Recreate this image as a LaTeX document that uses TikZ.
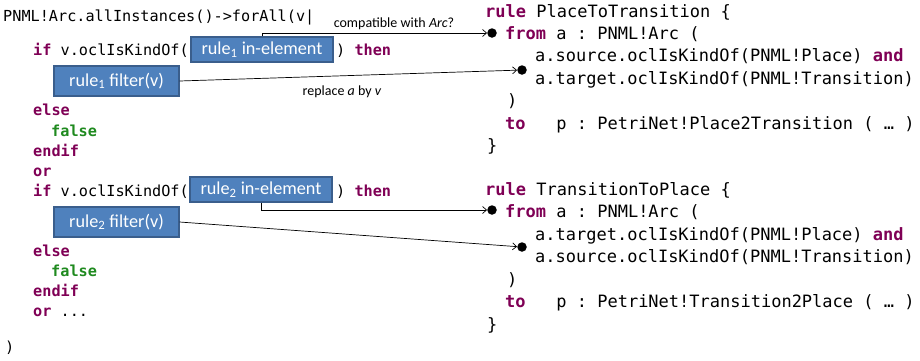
\documentclass[tikz,border=0pt]{standalone}
\usepackage{fontspec}
\setmainfont{Carlito}
\setmonofont{DejaVu Sans Mono}
\usetikzlibrary{arrows.meta}
\definecolor{kwc}{HTML}{7F0055}
\definecolor{falsec}{HTML}{1F8A1F}
\definecolor{boxfill}{HTML}{4F81BD}
\definecolor{boxline}{HTML}{3A5E8C}
\newcommand\kw[1]{\textbf{\textcolor{kwc}{#1}}}
\newcommand\kwfalse{\textbf{\textcolor{falsec}{false}}}
\begin{document}
\begin{tikzpicture}[x=1pt,y=-1pt,
  lcode/.style={anchor=base west, inner sep=0, font=\ttfamily\fontsize{15.2}{18}\selectfont},
  rcode/.style={anchor=base west, inner sep=0, font=\ttfamily\fontsize{17}{20}\selectfont},
  tag/.style={rectangle, fill=boxfill, draw=boxline, line width=1.2pt, text=white,
              inner sep=0, font=\fontsize{18.2}{21}\selectfont},
  dot/.style={circle, fill=black, minimum size=9.5pt, inner sep=0},
  link/.style={-{Straight Barb[length=4pt,width=7pt]}, line width=0.7pt},
  note/.style={font=\fontsize{14}{16}\selectfont, inner sep=0}
]
\useasboundingbox (0,0) rectangle (920,360);

% OCL constraint on the left
\node[lcode] (l0)  at (3,21)   {PNML!Arc.allInstances()->forAll(v|};
\node[lcode] (l1)  at (33,55.5) {\kw{if} v.oclIsKindOf(};
\node[lcode] (l1b) at (336,55.5) {) \kw{then}};
\node[lcode] (l2)  at (33,115.5) {\kw{else}};
\node[lcode] (l3)  at (51,136)  {\kwfalse};
\node[lcode] (l4)  at (33,156)  {\kw{endif}};
\node[lcode] (l5)  at (33,176)  {\kw{or}};
\node[lcode] (l6)  at (33,196)  {\kw{if} v.oclIsKindOf(};
\node[lcode] (l6b) at (336,196) {) \kw{then}};
\node[lcode] (l7)  at (33,256)  {\kw{else}};
\node[lcode] (l8)  at (51,276)  {\kwfalse};
\node[lcode] (l9)  at (33,296)  {\kw{endif}};
\node[lcode] (l10) at (33,316)  {\kw{or} ...};
\node[lcode] (l11) at (5,352)   {)};

% placeholders taken from the rules
\node[tag, minimum width=142pt, minimum height=25pt] (in1) at (262,49.5) {rule\textsubscript{1} in-element};
\node[tag, minimum width=125pt, minimum height=30pt] (f1)  at (116.5,81) {rule\textsubscript{1} filter(v)};
\node[tag, minimum width=142pt, minimum height=25pt] (in2) at (261,189.5) {rule\textsubscript{2} in-element};
\node[tag, minimum width=125pt, minimum height=30pt] (f2)  at (116.5,222) {rule\textsubscript{2} filter(v)};

% first ATL rule
\node[rcode] (r0) at (485,17.5)  {\kw{rule} PlaceToTransition \{};
\node[rcode] (r1) at (505,39)    {\kw{from} a : PNML!Arc (};
\node[rcode] (r2) at (535,61.5)  {a.source.oclIsKindOf(PNML!Place) \kw{and}};
\node[rcode] (r3) at (535,84)    {a.target.oclIsKindOf(PNML!Transition)};
\node[rcode] (r4) at (507,106.5) {)};
\node[rcode] (r5) at (505,129)   {\kw{to}\ \ \ p : PetriNet!Place2Transition ( … )};
\node[rcode] (r6) at (487,151.5) {\}};

% second ATL rule
\node[rcode] (s0) at (485,195)   {\kw{rule} TransitionToPlace \{};
\node[rcode] (s1) at (505,217.5) {\kw{from} a : PNML!Arc (};
\node[rcode] (s2) at (535,240)   {a.target.oclIsKindOf(PNML!Place) \kw{and}};
\node[rcode] (s3) at (535,262.5) {a.source.oclIsKindOf(PNML!Transition)};
\node[rcode] (s4) at (507,285)   {)};
\node[rcode] (s5) at (505,307.5) {\kw{to}\ \ \ p : PetriNet!Transition2Place ( … )};
\node[rcode] (s6) at (487,330)   {\}};

% anchor points in the rules
\node[dot] (d1) at (492,33)  {};
\node[dot] (d2) at (522,70)  {};
\node[dot] (d3) at (492,210) {};
\node[dot] (d4) at (522,247) {};

% mappings
\draw[link] (in1.north) |- (d1);
\draw[link] (f1.east) -- (d2);
\draw[link] (in2.south) |- (d3);
\draw[link] (f2.east) -- (d4);

\node[note] (n1) at (394,24) {compatible with \textit{Arc}?};
\node[note] (n2) at (342,92) {replace \textit{a} by \textit{v}};
\end{tikzpicture}
\end{document}
